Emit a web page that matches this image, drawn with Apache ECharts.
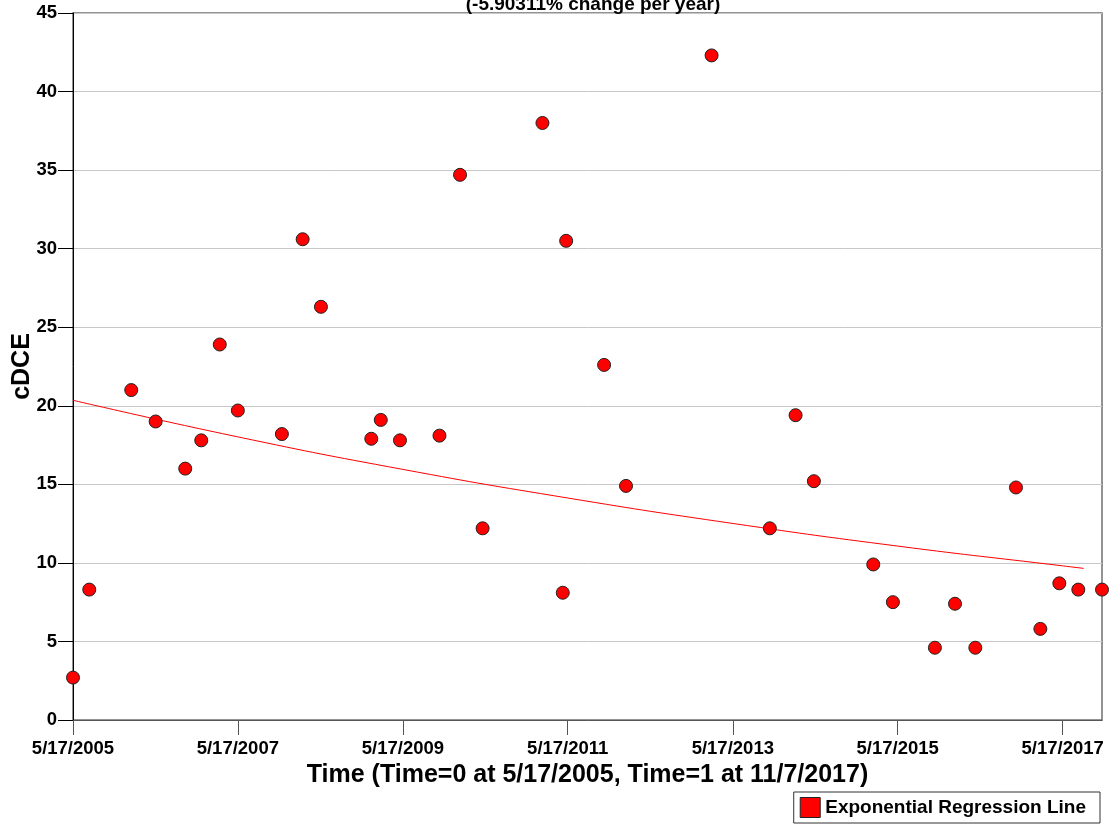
<!DOCTYPE html>
<html>
<head>
<meta charset="utf-8">
<script src="https://cdn.jsdelivr.net/npm/echarts@6/dist/echarts.min.js"></script>
<style>
  html, body {
      margin: 0;
      padding: 0;
      background-color: #fff;
  }
  #mainChart {
      width: 1110px;
      height: 825px;
  }
</style>
</head>
<body>
<div id="mainChart"></div>
<script>
  // sample times, in days after 5/17/2005
  var sampleDays = [0, 72, 258, 366, 497, 568, 650, 730, 925, 1017, 1098, 1321,
      1363, 1448, 1623, 1714, 1814, 2079, 2169, 2184, 2352, 2449, 2828, 3086,
      3200, 3281, 3544, 3631, 3817, 3906, 3996, 4176, 4284, 4368, 4452, 4557];
  var cdce = [2.7, 8.3, 21.0, 19.0, 16.0, 17.8, 23.9, 19.7, 18.2, 30.6, 26.3, 17.9,
      19.1, 17.8, 18.1, 34.7, 12.2, 38.0, 8.1, 30.5, 22.6, 14.9, 42.3, 12.2,
      19.4, 15.2, 9.9, 7.5, 4.6, 7.4, 4.6, 14.8, 5.8, 8.7, 8.3, 8.3];

  // regression line read at a few points
  var lineDays = [0, 730, 1461, 2191, 2922, 3652, 4383, 4476];
  var lineValues = [20.35, 18.02, 15.95, 14.13, 12.51, 11.07, 9.81, 9.65];

  var tickLabels = ['5/17/2005', '5/17/2007', '5/17/2009', '5/17/2011',
      '5/17/2013', '5/17/2015', '5/17/2017'];
  var startDate = '5/17/2005';
  var endDate = '11/7/2017';

  function dayNum(s) {
      var p = s.split('/');
      return Date.UTC(+p[2], +p[0] - 1, +p[1]) / 86400000;
  }
  var tickDays = tickLabels.map(function (s) { return dayNum(s) - dayNum(startDate); });
  var maxDays = dayNum(endDate) - dayNum(startDate);

  var font = 'Liberation Sans, Arial, Helvetica, sans-serif';

  var chart = echarts.init(document.getElementById('mainChart'));

  var option = {
      animation: false,
      textStyle: { fontFamily: font },
      title: {
          text: '(-5.90311% change per year)',
          left: 588,
          textAlign: 'center',
          top: -10,
          textStyle: { fontFamily: font, fontSize: 19, fontWeight: 'bold', color: '#000' }
      },
      legend: {
          right: 10,
          bottom: 2,
          orient: 'horizontal',
          itemWidth: 20,
          itemHeight: 20,
          borderColor: '#333',
          borderWidth: 1,
          padding: [5, 14, 5, 6],
          textStyle: { fontFamily: font, fontSize: 19, fontWeight: 'bold', color: '#000' },
          data: [{
              name: 'Exponential Regression Line',
              icon: 'rect',
              itemStyle: { color: '#ff0000', borderColor: '#222', borderWidth: 1 }
          }]
      },
      grid: {
          left: 73,
          right: 8,
          top: 13,
          bottom: 105,
          outerBoundsMode: 'none',
          containLabel: false,
          show: true,
          borderColor: '#707070',
          borderWidth: 1.5,
          backgroundColor: '#fff'
      },
      xAxis: {
          type: 'value',
          min: 0,
          max: maxDays,
          name: 'Time (Time=0 at 5/17/2005, Time=1 at 11/7/2017)',
          nameLocation: 'middle',
          nameGap: 35,
          nameTextStyle: { fontFamily: font, fontSize: 25, fontWeight: 'bold', color: '#000' },
          axisLine: { lineStyle: { color: '#555', width: 1 } },
          axisTick: { customValues: tickDays, length: 15, lineStyle: { color: '#555' } },
          axisLabel: {
              customValues: tickDays,
              margin: 19,
              fontFamily: font,
              fontSize: 18.5,
              fontWeight: 'bold',
              color: '#000',
              formatter: function (v) {
                  var i = tickDays.indexOf(v);
                  return i >= 0 ? tickLabels[i] : '';
              }
          },
          splitLine: { show: false }
      },
      yAxis: {
          type: 'value',
          min: 0,
          max: 45,
          interval: 5,
          name: 'cDCE',
          nameLocation: 'middle',
          nameGap: 38,
          nameMoveOverlap: false,
          nameTextStyle: { fontFamily: font, fontSize: 25, fontWeight: 'bold', color: '#000' },
          axisLine: { show: true, lineStyle: { color: '#000', width: 1 } },
          axisTick: { show: true, length: 15, lineStyle: { color: '#000' } },
          axisLabel: { margin: 16, fontFamily: font, fontSize: 18.5, fontWeight: 'bold', color: '#000' },
          splitLine: { lineStyle: { color: '#c8c8c8', width: 1 } }
      },
      series: [
          {
              name: 'cDCE',
              type: 'scatter',
              clip: false,
              symbol: 'circle',
              symbolSize: 13,
              itemStyle: { color: '#ff0000', borderColor: '#222', borderWidth: 1, opacity: 1 },
              data: sampleDays.map(function (d, i) { return [d, cdce[i]]; }),
              z: 3
          },
          {
              name: 'Exponential Regression Line',
              type: 'line',
              symbol: 'none',
              smooth: true,
              lineStyle: { color: '#ff0000', width: 1 },
              itemStyle: { color: '#ff0000' },
              data: lineDays.map(function (d, i) { return [d, lineValues[i]]; }),
              z: 2
          }
      ]
  };

  chart.setOption(option);
</script>
</body>
</html>
